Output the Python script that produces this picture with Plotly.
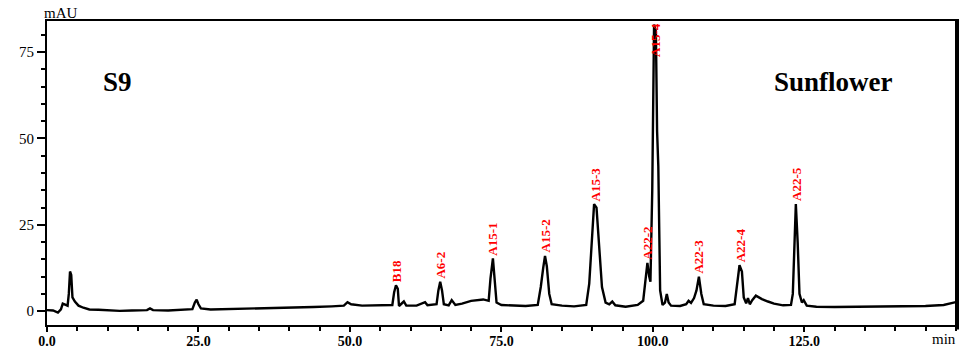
import plotly.graph_objects as go

# Chromatogram signal (time in min, absorbance in mAU)
times = [0, 1.0, 1.8, 2.3, 2.6, 3.0, 3.4, 3.6, 3.8, 4.0, 4.2, 4.6, 5.2, 6.0, 7.0, 8.5, 10, 12, 14,
         16.5, 17.0, 17.5, 20, 22, 24.0, 24.4, 24.7, 25.0, 25.4, 27, 30, 33, 36, 40, 44, 47, 49.0,
         49.6, 50.2, 52, 55, 57.0, 57.3, 57.6, 57.9, 58.1, 58.9, 59.3, 61, 62.4, 62.8, 64.3, 64.6,
         64.9, 65.2, 65.5, 66.3, 66.8, 67.4, 68.5, 70, 72, 72.9, 73.2, 73.6, 73.9, 74.2, 75, 77, 79,
         81.0, 81.5, 81.9, 82.2, 82.5, 82.9, 83.3, 85, 87, 89.0, 89.5, 89.9, 90.3, 90.7, 91.1, 91.6,
         92.2, 92.8, 93.3, 93.8, 95.5, 97.5, 98.4, 98.8, 99.1, 99.4, 99.6, 99.9, 100.2, 100.5, 100.7,
         100.9, 101.2, 101.6, 102.0, 102.3, 102.6, 103.0, 104.5, 105.5, 105.9, 106.3, 106.8, 107.2,
         107.6, 108.0, 108.4, 110, 112, 113.5, 113.9, 114.3, 114.7, 115.0, 115.4, 115.7, 116.0,
         116.4, 117.0, 118, 119, 120, 121.5, 122.8, 123.1, 123.4, 123.6, 123.9, 124.2, 124.6, 124.9,
         125.4, 127, 130, 135, 140, 145, 148, 149.5, 150.2]
signal = [0.3, 0.2, -0.4, 0.5, 2.2, 2.0, 1.6, 5, 11.5, 10.5, 4, 2.8, 1.6, 1.0, 0.5, 0.4, 0.2, 0.1, 0.2,
          0.3, 0.8, 0.3, 0.2, 0.4, 0.6, 2.5, 3.3, 2.0, 0.8, 0.5, 0.6, 0.7, 0.9, 1.0, 1.2, 1.4, 1.6,
          2.6, 2.0, 1.6, 1.7, 1.8, 5.5, 7.5, 6.5, 1.5, 2.8, 1.6, 1.6, 2.6, 1.7, 2.0, 6,
          8.5, 6, 2.0, 1.7, 3.2, 1.8, 2.2, 3.0, 3.4, 3.0, 9.5, 15.3, 9, 2.5, 1.8, 1.6, 1.5,
          1.8, 7, 12.5, 16, 13, 5, 2, 1.6, 1.4, 1.8, 8, 18, 31, 30, 19, 7,
          2.5, 2.0, 2.8, 1.7, 1.3, 1.8, 3.0, 9, 14, 10, 8.5, 35, 83, 81, 52,
          42, 6, 1.8, 2.5, 5, 2.5, 1.6, 1.5, 2.0, 3.0, 2.4, 3.8, 6,
          10, 5, 2.0, 1.6, 1.5, 2.0, 7, 13.3, 11.5, 4, 2.3, 3.8, 2.0,
          3.2, 4.5, 3.5, 2.8, 2.2, 1.7, 1.8, 5, 18, 31, 20, 5, 2.5, 3.2,
          1.6, 1.3, 1.2, 1.3, 1.4, 1.5, 1.8, 2.5, 2.7]

# Peak labels
peak_names = ["B18", "A6-2", "A15-1", "A15-2", "A15-3", "A22-2", "A22-3", "A22-4", "A22-5"]
peak_times = [57.6, 64.9, 73.6, 82.2, 90.5, 99.1, 107.6, 114.4, 123.6]
peak_heights = [7.5, 8.5, 15.3, 16, 31, 14, 10, 13.3, 31]
top_peak_name = "A15-4"
top_peak_time = 100.35

x_tick_vals = [0, 25, 50, 75, 100, 125]
x_tick_text = ["0.0", "25.0", "50.0", "75.0", "100.0", "125.0"]
y_tick_vals = [0, 25, 50, 75]
y_tick_text = ["0", "25", "50", "75"]

SERIF = "Liberation Serif, Times New Roman, serif"
W, H = 980, 351
ML, MR, MT, MB = 47, 23, 21, 26


def px_to_paper(px, py):
    return (px - ML) / (W - ML - MR), 1 - (py - MT) / (H - MT - MB)


fig = go.Figure()
fig.add_trace(go.Scatter(x=times, y=signal, mode="lines",
                         line=dict(color="black", width=2.4), hoverinfo="skip"))

label_font = dict(family=SERIF, size=13, color="#ff0000", weight="bold")
for name, t, h in zip(peak_names, peak_times, peak_heights):
    fig.add_annotation(x=t, y=h, text=name, showarrow=False, textangle=-90,
                       xanchor="center", yanchor="bottom", yshift=1, font=label_font)
fig.add_annotation(x=top_peak_time, y=1, yref="paper", text=top_peak_name, showarrow=False,
                   textangle=-90, xanchor="center", yanchor="top", font=label_font)

for txt, (px, py), size in [("<b>S9</b>", (117, 82), 27),
                            ("<b>Sunflower</b>", (833, 82), 27),
                            ("mAU", (61, 13), 15),
                            ("min", (944, 339), 15)]:
    xp, yp = px_to_paper(px, py)
    fig.add_annotation(x=xp, y=yp, xref="paper", yref="paper", text=txt, showarrow=False,
                       xanchor="center", yanchor="middle",
                       font=dict(family=SERIF, size=size, color="black"))

# thick right border
fig.add_shape(type="line", xref="paper", yref="paper", x0=1.0, x1=1.0, y0=-0.015, y1=1,
              line=dict(color="black", width=4))

fig.update_layout(
    width=W, height=H, margin=dict(l=ML, r=MR, t=MT, b=MB, autoexpand=False),
    plot_bgcolor="white", paper_bgcolor="white", showlegend=False,
    xaxis=dict(range=[0, 150.2], tickvals=x_tick_vals, ticktext=x_tick_text,
               ticks="outside", ticklen=5, tickwidth=1.5, tickcolor="black",
               ticklabelstandoff=-3,
               minor=dict(tickvals=list(range(0, 151, 5)), ticks="outside", ticklen=4,
                          tickwidth=1.5, tickcolor="black"),
               showline=True, linewidth=2, linecolor="black", mirror=True,
               showgrid=False, zeroline=False, automargin=False,
               tickfont=dict(family=SERIF, size=14, color="black", weight="bold")),
    yaxis=dict(range=[-4, 84], tickvals=y_tick_vals, ticktext=y_tick_text,
               ticks="outside", ticklen=8, tickwidth=1.5, tickcolor="black",
               minor=dict(tickvals=list(range(0, 85, 5)), ticks="outside", ticklen=4,
                          tickwidth=1.5, tickcolor="black"),
               showline=True, linewidth=2, linecolor="black", mirror=True,
               showgrid=False, zeroline=False, automargin=False,
               tickfont=dict(family=SERIF, size=15, color="black")),
)

fig.write_html("out.html", config={"displayModeBar": False},
               post_script="document.body.style.margin='0';"
                           "document.documentElement.style.margin='0';"
                           "document.body.style.overflow='hidden';")
